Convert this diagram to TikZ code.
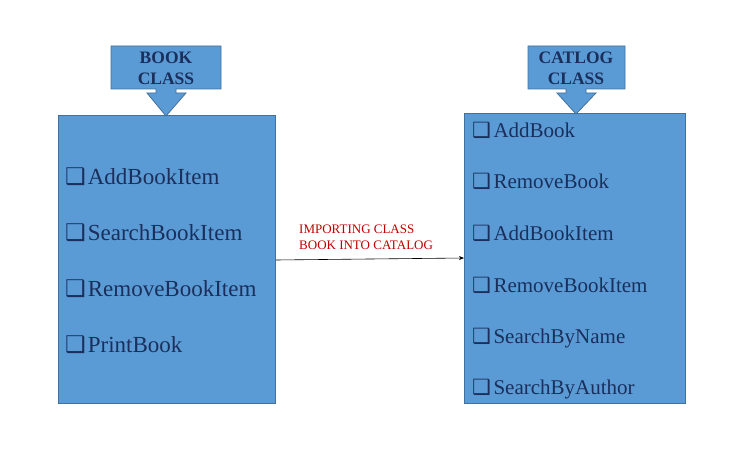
\documentclass[tikz,border=0pt]{standalone}
\usepackage{fontspec}
\usetikzlibrary{arrows.meta}
\setmainfont{Liberation Serif}
\newfontfamily\djv{DejaVu Sans}
\definecolor{boxfill}{HTML}{5B9BD5}
\definecolor{boxline}{HTML}{41719C}
\definecolor{navy}{HTML}{1A2F5C}
\definecolor{lblred}{HTML}{C00000}
\tikzset{
  panel/.style={fill=boxfill, draw=boxline, line width=0.8pt},
  ttl/.style={font=\fontsize{17.5}{17.5}\selectfont\bfseries, text=navy, inner sep=0pt, anchor=base},
  itemL/.style={font=\fontsize{23}{23}\selectfont, text=navy, inner sep=0pt, anchor=base west},
  itemR/.style={font=\fontsize{21}{21}\selectfont, text=navy, inner sep=0pt, anchor=base west},
  lbl/.style={font=\fontsize{13}{13}\selectfont, text=lblred, inner sep=0pt, anchor=base west},
}
\newcommand{\chk}[1]{{\djv\scalebox{1.0}{❑}}\hspace{#1}}
\begin{document}
\begin{tikzpicture}[x=1pt,y=-1pt]
\useasboundingbox (0,0) rectangle (738,465);
% left panel
\node[panel, minimum width=217pt, minimum height=288pt, inner sep=0pt, anchor=north west] (left) at (58,115) {};
% right panel
\node[panel, minimum width=221pt, minimum height=290pt, inner sep=0pt, anchor=north west] (right) at (464,113) {};
% book callout
\draw[panel] (111,46) -- (221,46) -- (221,89) -- (176,89) -- (176,93) -- (186,93) -- (166,116)
  -- (147,93) -- (156,93) -- (156,89) -- (111,89) -- cycle;
\node[ttl] (bt1) at (166,64) {BOOK};
\node[ttl] (bt2) at (166,85) {CLASS};
% catalog callout
\draw[panel] (528,46) -- (625,46) -- (625,89) -- (586,89) -- (586,93) -- (596,93) -- (576,114)
  -- (557,93) -- (566,93) -- (566,89) -- (528,89) -- cycle;
\node[ttl] (ct1) at (576,64) {CATLOG};
\node[ttl] (ct2) at (576,85) {CLASS};
% left items
\node[itemL] (l1) at (65,184) {\chk{2pt}AddBookItem};
\node[itemL] (l2) at (65,240) {\chk{2pt}SearchBookItem};
\node[itemL] (l3) at (65,296) {\chk{2pt}RemoveBookItem};
\node[itemL] (l4) at (65,352) {\chk{2pt}PrintBook};
% right items
\node[itemR] (r1) at (472,138) {\chk{2.5pt}AddBook};
\node[itemR] (r2) at (472,189) {\chk{2.5pt}RemoveBook};
\node[itemR] (r3) at (472,240) {\chk{2.5pt}AddBookItem};
\node[itemR] (r4) at (472,292) {\chk{2.5pt}RemoveBookItem};
\node[itemR] (r5) at (472,343) {\chk{2.5pt}SearchByName};
\node[itemR] (r6) at (472,394) {\chk{2.5pt}SearchByAuthor};
% label
\node[lbl] (lab1) at (299,233) {IMPORTING CLASS};
\node[lbl] (lab2) at (299,249) {BOOK INTO CATALOG};
% connector
\coordinate (aS) at (left.east |- 0,260);
\coordinate (aE) at (right.west |- 0,258);
\draw[-{Stealth[length=5pt,width=4pt]}, line width=0.6pt] (aS) -- (aE);
\end{tikzpicture}
\end{document}
